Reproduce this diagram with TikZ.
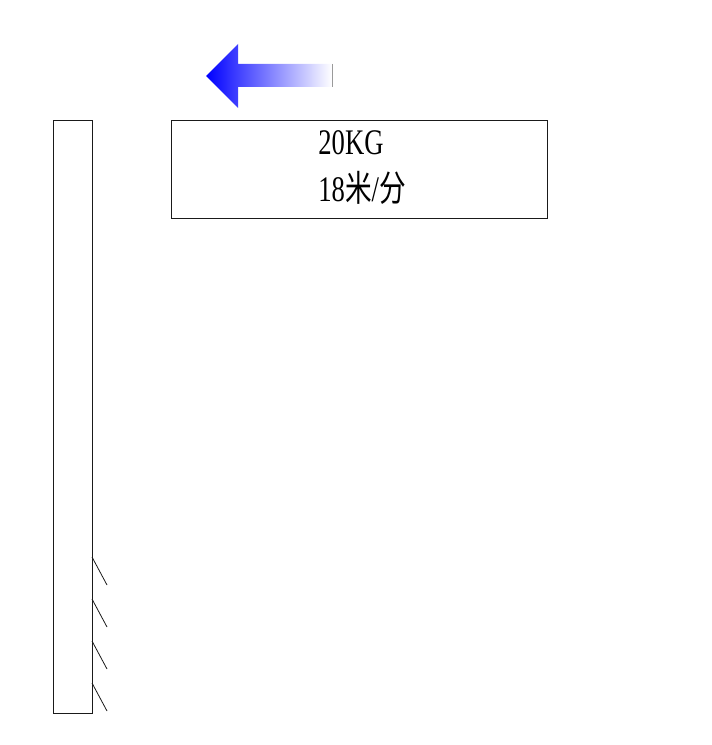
\documentclass[tikz,border=0pt]{standalone}
\usepackage{fontspec}
\setmainfont{Liberation Serif}
\newfontfamily\cjk{Noto Sans CJK SC}
\usepackage{xcolor}
\definecolor{vblack}{HTML}{1a1a1a}
\definecolor{vblue}{HTML}{0000ff}
\definecolor{vgray}{HTML}{9a9a9a}
\newcommand{\narrow}[1]{\scalebox{0.74}[1]{#1}}
\begin{document}
\begin{tikzpicture}[x=0.75pt, y=-0.75pt, line width=0.6pt,
		label/.style={anchor=base west, inner sep=0pt, font=\fontsize{27}{33}\selectfont}]
		\useasboundingbox (0,0) rectangle (712,745);
		% pole with hatching
		\draw[draw = vblack, fill = white] (53,120) rectangle (92,713);
		\foreach \y in {557,599,641,683}
			\draw[draw = vblack] (92,\y) -- (107,\y+28);
		% load box
		\draw[draw = vblack] (171,120) rectangle (547,218);
		\node[label] (weight) at (318,155) {\narrow{20KG}};
		\node[label] (speed) at (318,202) {\narrow{18{\cjk 米}/{\cjk 分}}};
		% direction arrow
		\shade[left color = vblue, right color = white, shading angle = 90]
			(206,76) -- (238,44) -- (238,64) -- (332,64) -- (332,87) -- (238,87) -- (238,108) -- cycle;
		\draw[draw = vgray, line width=0.4pt] (332,64) -- (332,87);
	\end{tikzpicture}
\end{document}
